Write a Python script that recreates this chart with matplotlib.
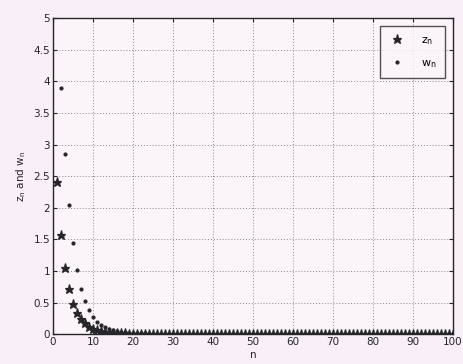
import matplotlib
matplotlib.use("Agg")
import matplotlib.pyplot as plt
import numpy as np

n_vals = list(range(1, 101))

z_vals = [
    2.40, 1.57, 1.05, 0.72, 0.48, 0.34, 0.24, 0.17, 0.12, 0.085,
    0.062, 0.046, 0.035, 0.027, 0.021, 0.017, 0.014, 0.012, 0.010, 0.009,
    0.008, 0.007, 0.006, 0.006, 0.005, 0.005, 0.004, 0.004, 0.004, 0.003,
    0.003, 0.003, 0.003, 0.003, 0.002, 0.002, 0.002, 0.002, 0.002, 0.002,
    0.002, 0.002, 0.002, 0.002, 0.002, 0.001, 0.001, 0.001, 0.001, 0.001,
    0.001, 0.001, 0.001, 0.001, 0.001, 0.001, 0.001, 0.001, 0.001, 0.001,
    0.001, 0.001, 0.001, 0.001, 0.001, 0.001, 0.001, 0.001, 0.001, 0.001,
    0.001, 0.001, 0.001, 0.001, 0.001, 0.001, 0.001, 0.001, 0.001, 0.001,
    0.001, 0.001, 0.001, 0.001, 0.001, 0.001, 0.001, 0.001, 0.001, 0.001,
    0.001, 0.001, 0.001, 0.001, 0.001, 0.001, 0.001, 0.001, 0.001, 0.001,
]

w_vals = [
    5.40, 3.90, 2.85, 2.05, 1.45, 1.02, 0.72, 0.52, 0.38, 0.27,
    0.20, 0.15, 0.11, 0.085, 0.065, 0.050, 0.040, 0.032, 0.026, 0.021,
    0.017, 0.014, 0.012, 0.010, 0.009, 0.008, 0.007, 0.006, 0.006, 0.005,
    0.005, 0.004, 0.004, 0.004, 0.003, 0.003, 0.003, 0.003, 0.003, 0.002,
    0.002, 0.002, 0.002, 0.002, 0.002, 0.002, 0.002, 0.002, 0.002, 0.002,
    0.001, 0.001, 0.001, 0.001, 0.001, 0.001, 0.001, 0.001, 0.001, 0.001,
    0.001, 0.001, 0.001, 0.001, 0.001, 0.001, 0.001, 0.001, 0.001, 0.001,
    0.001, 0.001, 0.001, 0.001, 0.001, 0.001, 0.001, 0.001, 0.001, 0.001,
    0.001, 0.001, 0.001, 0.001, 0.001, 0.001, 0.001, 0.001, 0.001, 0.001,
    0.001, 0.001, 0.001, 0.001, 0.001, 0.001, 0.001, 0.001, 0.001, 0.001,
]

x_ticks = [0, 10, 20, 30, 40, 50, 60, 70, 80, 90, 100]
y_ticks = [0, 0.5, 1, 1.5, 2, 2.5, 3, 3.5, 4, 4.5, 5]

bg = "#f8eff7"
ink = "#26262a"

fig = plt.figure(figsize=(4.64, 3.64), dpi=100, facecolor=bg)
ax = fig.add_axes([0.114, 0.082, 0.862, 0.868], facecolor="#fbf5fa")

ax.plot(n_vals, z_vals, linestyle="none", marker="*", markersize=6.5,
        color=ink, markeredgewidth=0.9, label="$\\mathregular{z_n}$", clip_on=True)
ax.plot(n_vals, w_vals, linestyle="none", marker=".", markersize=4,
        color=ink, label="$\\mathregular{w_n}$", clip_on=True)

ax.set_xlim(0, 100)
ax.set_ylim(0, 5)
ax.set_xticks(x_ticks)
ax.set_yticks(y_ticks)
ax.set_yticklabels([f"{t:g}" for t in y_ticks])
ax.tick_params(direction="in", length=3, labelsize=7.5, colors=ink, width=0.8,
               top=True, right=True, pad=2)
ax.grid(True, linestyle=(0, (1, 2)), color="#8a8a8a", linewidth=0.7)
for s in ax.spines.values():
    s.set_color(ink)
    s.set_linewidth(1.0)

ax.set_xlabel("n", fontsize=7.5, color=ink, labelpad=2)
ax.set_ylabel("$\\mathregular{z_n}$ and $\\mathregular{w_n}$", fontsize=7.5,
              color=ink, labelpad=4)

leg = ax.legend(loc="upper right", fontsize=8, frameon=True, fancybox=False,
                edgecolor=ink, borderpad=0.8, labelspacing=1.0,
                handlelength=1.5, handletextpad=1.4, markerfirst=True,
                borderaxespad=0.7)
leg.get_frame().set_linewidth(1.0)
leg.get_frame().set_facecolor("#fbf5fa")

fig.savefig("out.png", dpi=100, facecolor=bg)
